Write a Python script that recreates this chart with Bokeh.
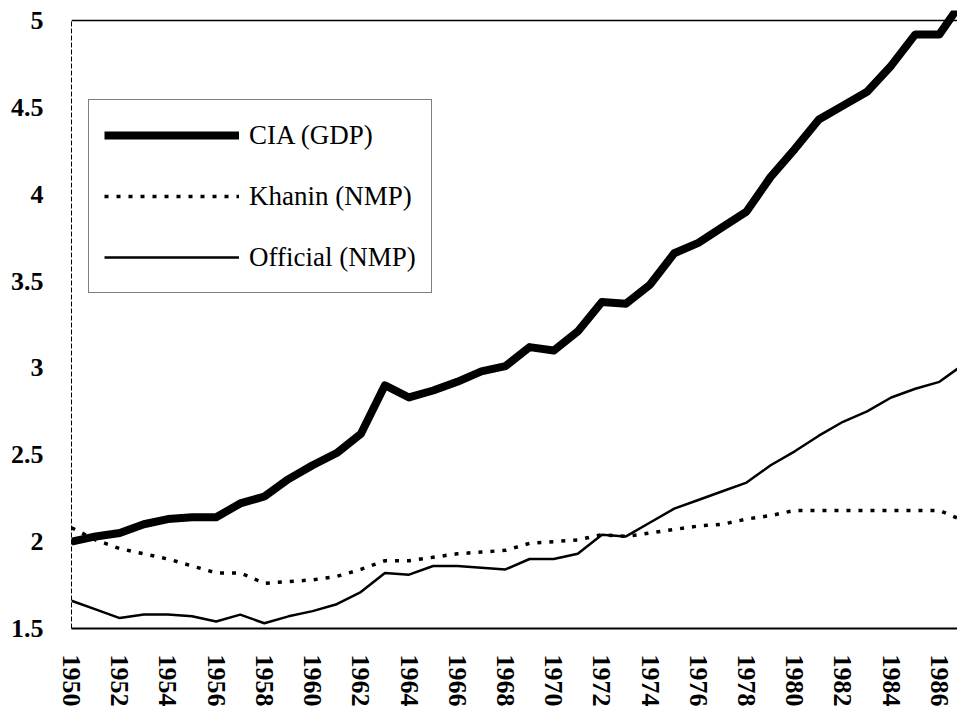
from bokeh.plotting import figure
from bokeh.models import Legend, LegendItem, Span, FixedTicker, NumeralTickFormatter
from bokeh.embed import file_html
from bokeh.resources import INLINE

years = list(range(1950, 1988))
cia_gdp = [2.00, 2.03, 2.05, 2.10, 2.13, 2.14, 2.14, 2.22, 2.26, 2.36,
           2.44, 2.51, 2.62, 2.90, 2.83, 2.87, 2.92, 2.98, 3.01, 3.12,
           3.10, 3.21, 3.38, 3.37, 3.48, 3.66, 3.72, 3.81, 3.90, 4.10,
           4.26, 4.43, 4.51, 4.59, 4.74, 4.92, 4.92, 5.12]
khanin_nmp = [2.08, 2.01, 1.96, 1.93, 1.90, 1.86, 1.82, 1.82, 1.76, 1.77,
              1.78, 1.80, 1.84, 1.89, 1.89, 1.91, 1.93, 1.94, 1.95, 1.99,
              2.00, 2.01, 2.04, 2.03, 2.05, 2.07, 2.09, 2.10, 2.13, 2.15,
              2.18, 2.18, 2.18, 2.18, 2.18, 2.18, 2.18, 2.12]
official_nmp = [1.66, 1.61, 1.56, 1.58, 1.58, 1.57, 1.54, 1.58, 1.53, 1.57,
                1.60, 1.64, 1.71, 1.82, 1.81, 1.86, 1.86, 1.85, 1.84, 1.90,
                1.90, 1.93, 2.04, 2.03, 2.11, 2.19, 2.24, 2.29, 2.34, 2.44,
                2.52, 2.61, 2.69, 2.75, 2.83, 2.88, 2.92, 3.02]

series_names = ["CIA (GDP)", "Khanin (NMP)", "Official (NMP)"]
xticks = list(range(1950, 1987, 2))
yticks = [1.5, 2, 2.5, 3, 3.5, 4, 4.5, 5]

p = figure(width=957, height=715, output_backend="svg", toolbar_location=None,
           x_range=(1950, 1986.75), y_range=(1.5, 5.0576),
           min_border_left=71, min_border_right=0, min_border_top=10,
           min_border_bottom=87)
p.background_fill_color = "white"
p.border_fill_color = "white"
p.outline_line_color = None
p.xgrid.grid_line_color = None
p.ygrid.grid_line_color = None

r_cia = p.line(years, cia_gdp, line_color="black", line_width=8, line_join="round")
r_kh = p.line(years, khanin_nmp, line_color="black", line_width=3.5, line_dash="4 8")
r_off = p.line(years, official_nmp, line_color="black", line_width=2.5)

p.add_layout(Span(location=5, dimension="width", line_color="black", line_width=1.5))

p.xaxis.ticker = FixedTicker(ticks=xticks)
p.xaxis.major_label_orientation = "vertical"
p.xaxis.major_label_text_font = "Liberation Serif"
p.xaxis.major_label_text_font_style = "bold"
p.xaxis.major_label_text_font_size = "26px"
p.xaxis.major_label_text_color = "black"
p.xaxis.major_label_standoff = 26
p.xaxis.major_tick_out = 0
p.xaxis.major_tick_in = 0
p.xaxis.major_tick_line_color = None
p.xaxis.minor_tick_line_color = None
p.xaxis.axis_line_color = "black"
p.xaxis.axis_line_width = 2

p.yaxis.ticker = FixedTicker(ticks=yticks)
p.yaxis.formatter = NumeralTickFormatter(format="0.[0]")
p.yaxis.major_label_text_font = "Liberation Serif"
p.yaxis.major_label_text_font_style = "bold"
p.yaxis.major_label_text_font_size = "26px"
p.yaxis.major_label_text_color = "black"
p.yaxis.major_label_standoff = 28
p.yaxis.major_tick_out = 0
p.yaxis.major_tick_in = 0
p.yaxis.major_tick_line_color = None
p.yaxis.minor_tick_line_color = None
p.yaxis.axis_line_color = "black"
p.yaxis.axis_line_width = 1
p.yaxis.axis_line_dash = "5 2"
p.yaxis.bounds = (1.5, 5)

legend = Legend(items=[LegendItem(label=series_names[0], renderers=[r_cia]),
                       LegendItem(label=series_names[1], renderers=[r_kh]),
                       LegendItem(label=series_names[2], renderers=[r_off])],
                location=(17, 335), orientation="vertical",
                border_line_color="black", border_line_width=1,
                background_fill_color="white", background_fill_alpha=1,
                padding=15, spacing=21, glyph_height=40, glyph_width=135,
                label_standoff=10, label_text_font="Liberation Serif",
                label_text_font_size="27px", label_text_color="black", margin=0)
p.add_layout(legend, "center")

open("out.html", "w").write(file_html(p, INLINE))
